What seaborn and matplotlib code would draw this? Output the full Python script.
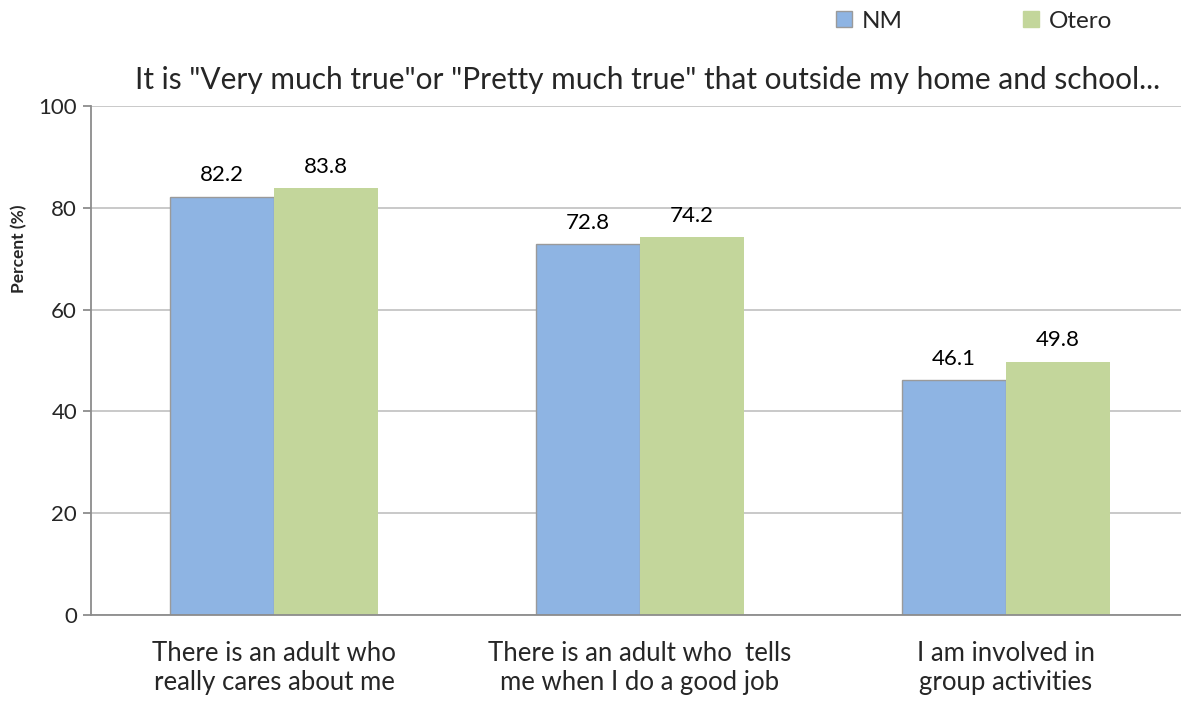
import pandas as pd
import matplotlib.pyplot as plt
import seaborn as sns
from matplotlib.patches import Patch

categories = ["There is an adult who\nreally cares about me",
              "There is an adult who  tells\nme when I do a good job",
              "I am involved in\ngroup activities"]
series = ["NM", "Otero"]
nm_values = [82.2, 72.8, 46.1]
otero_values = [83.8, 74.2, 49.8]
yticks = [0, 20, 40, 60, 80, 100]
title = 'It is "Very much true"or "Pretty much true" that outside my home and school...'

colors = {"NM": "#8EB4E3", "Otero": "#C3D69B"}

df = pd.DataFrame({
    "category": categories * 2,
    "series": ["NM"] * 3 + ["Otero"] * 3,
    "value": nm_values + otero_values,
})

sns.set_style("white")
plt.rcParams['font.family'] = ['Lato', 'DejaVu Sans']

fig = plt.figure(figsize=(11.81, 7.02), dpi=100)
ax = fig.add_axes([91 / 1181, 1 - 615 / 702, (1189 - 91) / 1181, (615 - 106) / 702])

sns.barplot(data=df, x="category", y="value", hue="series", palette=colors,
            width=0.571, ax=ax, legend=False, saturation=1)

for bar in ax.patches:
    fc = bar.get_facecolor()
    if abs(fc[0] - 0x8E / 255) < 0.02:
        bar.set_edgecolor("#9A9A9A")
        bar.set_linewidth(1.0)
    else:
        bar.set_linewidth(0)

for cont in ax.containers:
    ax.bar_label(cont, labels=[f"{v:.1f}" for v in cont.datavalues],
                 padding=8, fontsize=16, color="#000000")

ax.set_ylim(0, 100)
ax.set_xlim(-0.5, 2.5)
ax.set_yticks(yticks)
ax.set_yticklabels([str(t) for t in yticks], fontsize=16)
ax.yaxis.grid(True, color="#C0C0C0", linewidth=1.2)
ax.set_axisbelow(True)

# category tick labels centered, tick marks at category boundaries
ax.set_xticks([0, 1, 2])
ax.set_xticklabels(categories, fontsize=18.5, linespacing=1.18)
ax.tick_params(axis="x", which="major", length=0, pad=19)
ax.set_xticks([-0.5, 0.5, 1.5, 2.5], minor=True)
ax.tick_params(axis="x", which="minor", length=9, width=1.3, color="#8C8C8C", direction="out")
ax.tick_params(axis="y", length=6, width=1.3, color="#8C8C8C", direction="out", left=True, pad=4)

for s in ["top", "right"]:
    ax.spines[s].set_visible(False)
for s in ["left", "bottom"]:
    ax.spines[s].set_color("#8C8C8C")
    ax.spines[s].set_linewidth(1.3)

ax.set_xlabel("")
ax.set_ylabel("")
fig.text(19 / 1181, 1 - 249 / 702, "Percent (%)", rotation=90, fontsize=12.5,
         fontweight="bold", ha="center", va="center")

fig.text(648 / 1181, 1 - 80 / 702, title, fontsize=21.5, ha="center", va="center")

handles = [Patch(facecolor=colors["NM"], edgecolor="#9A9A9A", label="NM"),
           Patch(facecolor=colors["Otero"], edgecolor=colors["Otero"], label="Otero")]
fig.legend(handles=handles, loc="center", bbox_to_anchor=(974 / 1181, 1 - 21 / 702),
           ncol=2, frameon=False, fontsize=17.5, handlelength=0.65, handleheight=0.65,
           handletextpad=0.4, columnspacing=4.95)

fig.savefig("out.png", dpi=100)
